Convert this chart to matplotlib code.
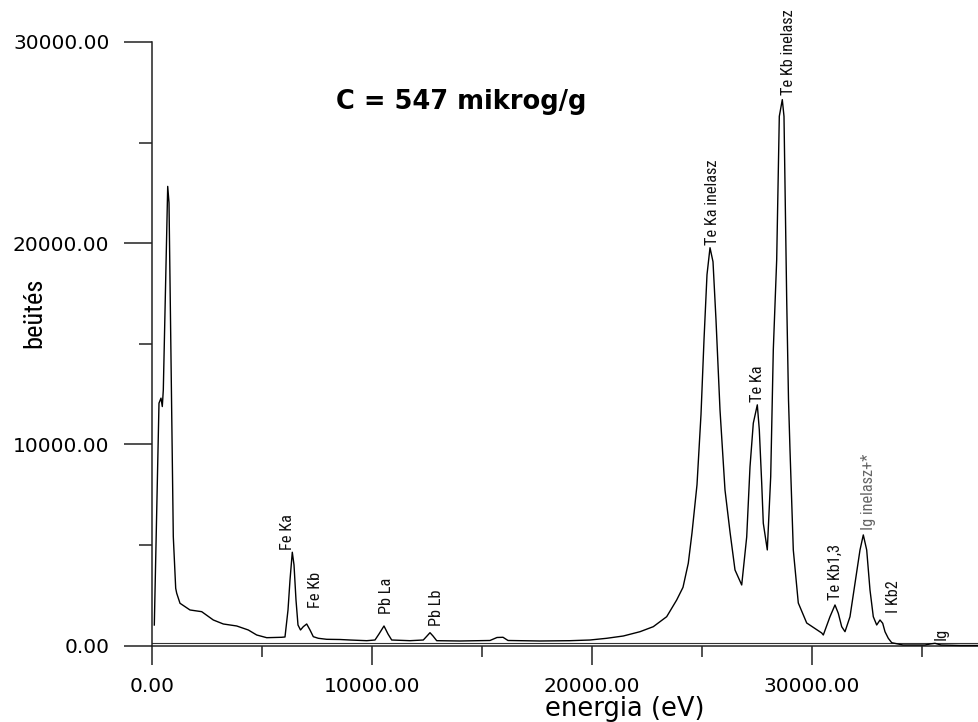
import matplotlib
matplotlib.use("Agg")
import matplotlib.pyplot as plt
from matplotlib import font_manager as fm
from matplotlib.ticker import FixedLocator, FormatStrFormatter

# ---------------- data ----------------
energy = [105, 318, 409, 468, 514, 714, 773, 968, 1077, 1123, 1273, 1727, 2259,
          2786, 3241, 3850, 4377, 4759, 5214, 5895, 6045, 6182, 6273, 6377, 6455,
          6545, 6636, 6750, 6877, 7032, 7182, 7332, 7559, 7941, 8545, 9000, 9759,
          10136, 10318, 10545, 10727, 10895, 11727, 12332, 12500, 12636, 12773,
          12941, 14000, 15364, 15682, 15955, 16182, 17636, 19000, 19909, 20668,
          21423, 22182, 22786, 23395, 23850, 24136, 24377, 24545, 24773, 24955,
          25091, 25227, 25364, 25500, 25636, 25818, 26045, 26273, 26500, 26805,
          27032, 27182, 27332, 27514, 27605, 27714, 27786, 27968, 28123, 28241,
          28395, 28514, 28650, 28727, 28850, 28932, 29000, 29150, 29377, 29759,
          30441, 30514, 30818, 31045, 31195, 31350, 31500, 31727, 31955, 32182,
          32332, 32486, 32636, 32786, 32941, 33091, 33214, 33318, 33468, 33623,
          34136, 35136, 35364, 35591, 35864, 36727, 37591]
counts = [1029, 12054, 12302, 11885, 12715, 22825, 22014, 5420, 2854, 2606, 2108,
          1775, 1691, 1278, 1079, 980, 781, 532, 398, 418, 433, 1775, 3267, 4645,
          4013, 2273, 1029, 781, 945, 1079, 781, 448, 368, 318, 308, 283, 249,
          283, 582, 980, 582, 283, 249, 283, 482, 646, 482, 249, 234, 259, 408,
          418, 259, 234, 249, 283, 368,
          482, 696, 945, 1442, 2273, 2900, 4100, 5600, 8000, 11500,
          15202, 18434, 19777, 19080, 16196, 11721, 7742, 5654, 3764, 3018,
          5405, 8886, 11059, 11969, 10726, 8076, 6087, 4759, 8404, 14704,
          19180, 26306, 27136, 26306, 17190, 12218, 9732, 4759, 2123, 1129,
          632, 532, 1442, 2024, 1611, 945, 696, 1442, 3103, 4759,
          5505, 4759, 2770, 1442, 1029, 1278, 1114, 696, 368, 149,
          35, 35, 85, 119, 35, 10, 10]

peak_labels = ["Fe Ka", "Fe Kb", "Pb La", "Pb Lb", "Te Ka inelasz", "Te Ka",
               "Te Kb inelasz", "Te Kb1,3", "Ig inelasz+*", "I Kb2", "Ig"]
label_energy = [6364, 7636, 10864, 13136, 25682, 27727, 29136, 31273, 32773,
                33909, 36091]
label_counts = [4759, 1875, 1561, 980, 19926, 12119, 27385, 2273, 5753, 1626, 283]
label_colors = ["#111111"] * 8 + ["#666666"] + ["#111111"] * 2

baseline_counts = 119

x_major = [0, 10000, 20000, 30000]
x_minor = [5000, 15000, 25000, 35000]
y_major = [0, 10000, 20000, 30000]
y_minor = [5000, 15000, 25000]

title_text = "C = 547 mikrog/g"
x_title = "energia (eV)"
y_title = "beütés"


def pick(cands):
    for c in cands:
        try:
            fm.findfont(fm.FontProperties(family=c), fallback_to_default=False)
            return c
        except Exception:
            pass
    return "DejaVu Sans"


narrow = pick(["Liberation Sans Narrow", "Roboto Condensed", "DejaVu Sans Condensed",
               "Open Sans Condensed", "Liberation Sans"])

plt.rcParams["font.family"] = ["DejaVu Sans"]

W, H = 979, 722
fig = plt.figure(figsize=(W / 100, H / 100), dpi=100)
ax = fig.add_axes([152 / W, 1 - 645.7 / H, 827 / W, (645.7 - 42) / H])
ax.set_xlim(0, 37591)
ax.set_ylim(0, 30000)

ax.plot(energy, counts, color="black", lw=1.0, clip_on=False, zorder=3)
ax.plot([0, 37591], [baseline_counts, baseline_counts], color="#333333", lw=0.8, zorder=2)

for t, e, c, col in zip(peak_labels, label_energy, label_counts, label_colors):
    ax.text(e, c, t, rotation=90, rotation_mode="anchor", ha="left", va="baseline",
            fontsize=11.8, family=[narrow, "DejaVu Sans"], color=col, clip_on=False)

for s in ["top", "right"]:
    ax.spines[s].set_visible(False)
for s in ["left", "bottom"]:
    ax.spines[s].set_linewidth(1.1)
    ax.spines[s].set_color("#222222")

ax.xaxis.set_major_locator(FixedLocator(x_major))
ax.xaxis.set_minor_locator(FixedLocator(x_minor))
ax.yaxis.set_major_locator(FixedLocator(y_major))
ax.yaxis.set_minor_locator(FixedLocator(y_minor))
ax.xaxis.set_major_formatter(FormatStrFormatter("%.2f"))
ax.yaxis.set_major_formatter(FormatStrFormatter("%.2f"))

ax.tick_params(axis="y", which="major", direction="out", length=20.2, width=1.1,
               color="#222222", pad=10.5, labelsize=14.5)
ax.tick_params(axis="y", which="minor", direction="out", length=9.4, width=1.1,
               color="#222222")
ax.tick_params(axis="x", which="major", direction="out", length=13.7, width=1.1,
               color="#222222", pad=9, labelsize=14.5)
ax.tick_params(axis="x", which="minor", direction="out", length=8, width=1.1,
               color="#222222")

ax.set_xlabel(x_title, fontsize=18.5)
ax.xaxis.set_label_coords((625 - 152) / 827, (645.7 - 708.5) / 603.7)
ax.xaxis.label.set_va("center")

ax.set_ylabel(y_title, fontsize=19, family=[narrow, "DejaVu Sans"])
ax.yaxis.set_label_coords((34 - 152) / 827, (645.7 - 313) / 603.7)
ax.yaxis.label.set_va("center")

fig.text(336 / W, 1 - 102 / H, title_text, fontsize=18.5, fontweight="bold",
         ha="left", va="center")

fig.savefig("out.png", dpi=100)
